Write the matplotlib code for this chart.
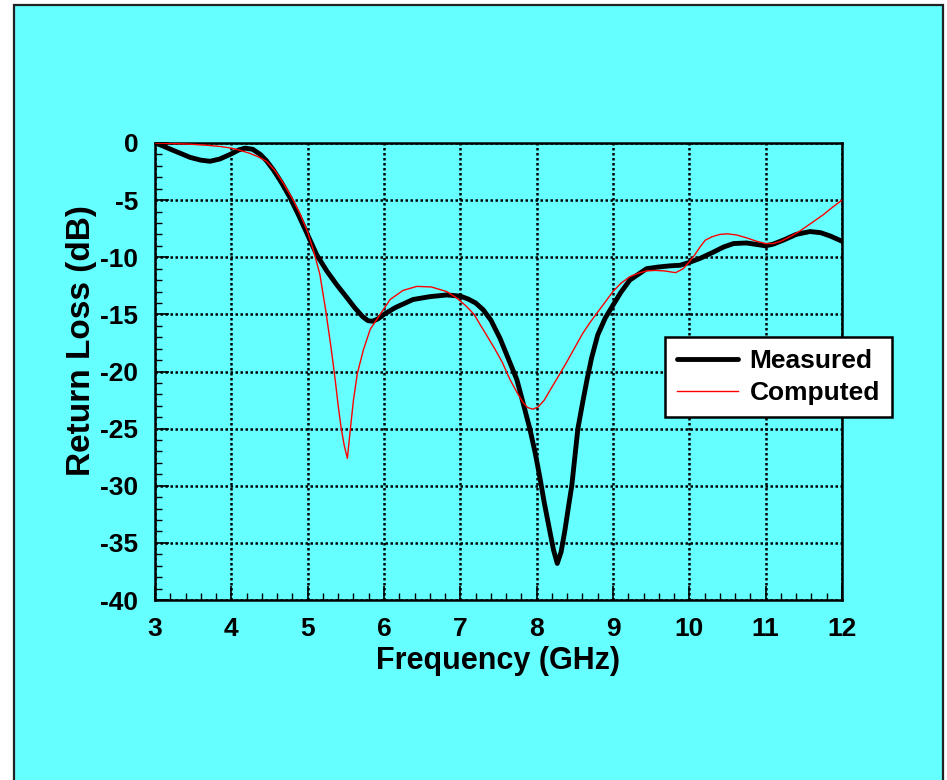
import matplotlib
matplotlib.use("Agg")
import matplotlib.pyplot as plt
from matplotlib.patches import Rectangle
from matplotlib.ticker import MultipleLocator

# Measured return loss (GHz, dB)
freq_measured = [3.0, 3.1, 3.24, 3.35, 3.46, 3.6, 3.72, 3.85, 4.0, 4.1, 4.18, 4.28,
                 4.38, 4.46, 4.55, 4.66, 4.77, 4.88, 4.99, 5.12, 5.25, 5.38, 5.51,
                 5.62, 5.72, 5.79, 5.85, 5.92, 6.0, 6.15, 6.38, 6.6, 6.82, 7.0, 7.1,
                 7.2, 7.3, 7.4, 7.52, 7.63, 7.74, 7.82, 7.91, 7.98, 8.04, 8.1, 8.17,
                 8.22, 8.27, 8.32, 8.37, 8.42, 8.46, 8.5, 8.54, 8.6, 8.66, 8.72, 8.8,
                 8.9, 9.0, 9.1, 9.22, 9.33, 9.44, 9.6, 9.75, 9.88, 10.0, 10.14, 10.3,
                 10.45, 10.58, 10.75, 10.9, 11.0, 11.1, 11.25, 11.4, 11.58, 11.72,
                 11.85, 12.0]
rl_measured = [0, -0.25, -0.65, -0.95, -1.26, -1.5, -1.6, -1.4, -0.95, -0.6, -0.45,
               -0.55, -1.0, -1.55, -2.35, -3.5, -4.8, -6.3, -7.9, -9.8, -11.2, -12.4,
               -13.5, -14.45, -15.2, -15.55, -15.6, -15.4, -15.0, -14.4, -13.7, -13.45,
               -13.3, -13.4, -13.65, -14.0, -14.6, -15.5, -17.1, -18.9, -20.7, -22.7,
               -25.0, -27.1, -29.2, -31.5, -33.9, -35.6, -36.8, -35.8, -33.9, -31.7,
               -30.0, -27.5, -25.0, -22.8, -20.7, -18.8, -16.8, -15.3, -14.2, -13.1,
               -12.0, -11.5, -11.0, -10.85, -10.75, -10.7, -10.45, -10.1, -9.6, -9.1,
               -8.8, -8.75, -8.9, -9.0, -8.85, -8.45, -8.0, -7.75, -7.85, -8.15, -8.6]

# Computed return loss (GHz, dB)
freq_computed = [3.0, 3.24, 3.45, 3.68, 3.85, 4.0, 4.12, 4.24, 4.35, 4.46, 4.57, 4.68,
                 4.81, 4.9, 5.0, 5.08, 5.16, 5.24, 5.31, 5.36, 5.4, 5.44, 5.48, 5.52,
                 5.56, 5.6, 5.65, 5.73, 5.82, 5.95, 6.08, 6.25, 6.43, 6.62, 6.82, 6.96,
                 7.08, 7.18, 7.26, 7.36, 7.45, 7.55, 7.65, 7.74, 7.82, 7.88, 7.95, 8.02,
                 8.1, 8.17, 8.26, 8.4, 8.5, 8.6, 8.7, 8.8, 8.9, 9.0, 9.1, 9.22, 9.33,
                 9.44, 9.55, 9.68, 9.82, 9.92, 10.0, 10.07, 10.14, 10.21, 10.3, 10.4,
                 10.5, 10.62, 10.75, 10.88, 11.0, 11.1, 11.2, 11.32, 11.45, 11.6, 11.75,
                 11.88, 12.0]
rl_computed = [0, -0.05, -0.1, -0.2, -0.3, -0.45, -0.65, -0.9, -1.2, -1.6, -2.4, -3.5,
               -5.0, -6.2, -7.8, -9.5, -11.5, -14.8, -18.1, -20.7, -23.0, -25.0, -26.5,
               -27.6, -25.0, -22.5, -20.2, -18.1, -16.3, -15.0, -13.7, -12.9, -12.55,
               -12.6, -13.0, -13.6, -14.3, -15.0, -15.9, -17.0, -18.0, -19.2, -20.7,
               -21.8, -22.7, -23.15, -23.3, -23.1, -22.5, -21.7, -20.7, -19.1, -17.9,
               -16.7, -15.7, -14.8, -13.9, -13.0, -12.3, -11.7, -11.4, -11.2, -11.15,
               -11.2, -11.35, -11.0, -10.4, -9.8, -9.1, -8.5, -8.2, -8.0, -7.95, -8.05,
               -8.3, -8.6, -8.8, -8.8, -8.6, -8.2, -7.7, -7.0, -6.3, -5.6, -5.0]

x_ticks = [3, 4, 5, 6, 7, 8, 9, 10, 11, 12]
y_ticks = [0, -5, -10, -15, -20, -25, -30, -35, -40]

BG = "#66FFFF"
plt.rcParams["font.family"] = ["Liberation Sans", "DejaVu Sans"]
plt.rcParams["font.weight"] = "bold"
plt.rcParams["axes.unicode_minus"] = False

fig = plt.figure(figsize=(9.47, 7.80), dpi=100)
fig.patch.set_facecolor("white")
panel = Rectangle((14 / 947, -0.05), (943 - 14) / 947, 1.05 - 5 / 780,
                  transform=fig.transFigure, facecolor=BG,
                  edgecolor="#222222", linewidth=1.6, zorder=-10)
fig.add_artist(panel)

ax = fig.add_axes([155 / 947, 1 - 600 / 780, (842 - 155) / 947, (600 - 143) / 780])
ax.set_zorder(1)
ax.patch.set_visible(False)

ax.plot(freq_measured, rl_measured, color="black", linewidth=3.5,
        solid_joinstyle="round", solid_capstyle="round", label="Measured", zorder=3)
ax.plot(freq_computed, rl_computed, color="#FF0000", linewidth=1.0,
        label="Computed", zorder=4)

ax.set_xlim(3, 12)
ax.set_ylim(-40, 0)
ax.set_xticks(x_ticks)
ax.set_yticks(y_ticks)
ax.xaxis.set_minor_locator(MultipleLocator(0.2))
ax.yaxis.set_minor_locator(MultipleLocator(1))

ax.grid(True, which="major", color="black", linestyle=(0, (1, 1)), linewidth=1.8)
ax.set_axisbelow(True)

for side in ("top", "right"):
    ax.spines[side].set_linestyle((0, (1, 1)))
    ax.spines[side].set_linewidth(1.8)
for side in ("left", "bottom"):
    ax.spines[side].set_linewidth(1.8)

ax.tick_params(axis="both", which="major", direction="in", length=10, width=1.2,
               labelsize=19, top=False, right=False)
ax.tick_params(axis="both", which="minor", direction="in", length=5, width=1.0,
               top=False, right=False)
ax.tick_params(axis="x", which="major", pad=12)
ax.tick_params(axis="y", which="major", pad=12)
for lbl in ax.get_xticklabels() + ax.get_yticklabels():
    lbl.set_fontweight("bold")

ax.set_xlabel("Frequency (GHz)", fontsize=22, fontweight="bold", labelpad=4)
ax.set_ylabel("Return Loss (dB)", fontsize=24, fontweight="bold")
ax.yaxis.set_label_coords((97 - 155) / 687, (600 - 341) / 457)

leg = ax.legend(loc="upper left", bbox_to_anchor=(665 / 947, 1 - 337 / 780),
                bbox_transform=fig.transFigure, borderaxespad=0, fancybox=False,
                framealpha=1, edgecolor="black", facecolor="white",
                prop={"size": 19, "weight": "bold"}, handlelength=2.3,
                handletextpad=0.45, borderpad=0.46, labelspacing=0.3)
leg.get_frame().set_linewidth(1.8)

fig.savefig("out.png", dpi=100, facecolor=fig.get_facecolor())
